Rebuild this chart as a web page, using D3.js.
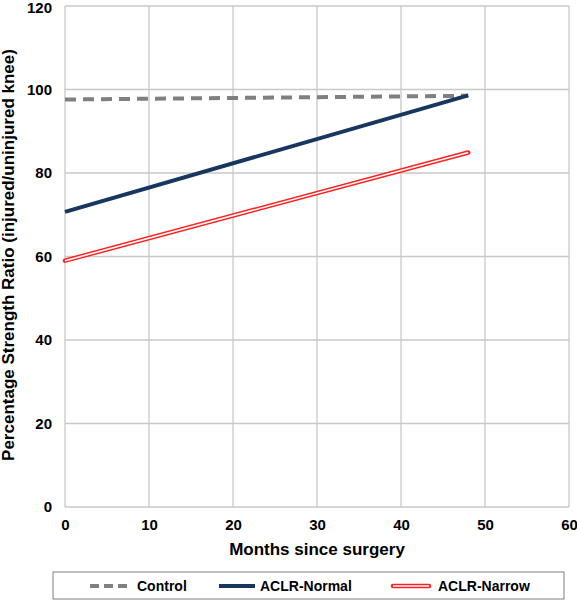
<!DOCTYPE html>
<html><head><meta charset="utf-8">
<script src="https://cdn.jsdelivr.net/npm/d3@7"></script>
<style>body{margin:0;background:#fff;} text{font-family:"Liberation Sans",Arial,sans-serif;font-weight:bold;fill:#000;}</style>
</head><body>
<svg id="c" width="577" height="600"></svg>
<script>
const months = [0, 48];
const control = [97.6, 98.5];
const aclrNormal = [70.7, 98.6];
const aclrNarrow = [59.0, 84.9];
const xTicks = [0, 10, 20, 30, 40, 50, 60];
const yTicks = [0, 20, 40, 60, 80, 100, 120];
const seriesNames = ["Control", "ACLR-Normal", "ACLR-Narrow"];

const svg = d3.select("#c");
const L = 65, R = 569, T = 6, B = 507;
const x = d3.scaleLinear().domain([0, 60]).range([L, R]);
const y = d3.scaleLinear().domain([0, 120]).range([B, T]);

// gridlines
svg.append("g").selectAll("line.v").data(xTicks).join("line")
  .attr("x1", d => x(d)).attr("x2", d => x(d)).attr("y1", T).attr("y2", B)
  .attr("stroke", "#c8c8c8").attr("stroke-width", 1.3);
svg.append("g").selectAll("line.h").data(yTicks).join("line")
  .attr("x1", L).attr("x2", R).attr("y1", d => y(d)).attr("y2", d => y(d))
  .attr("stroke", "#c8c8c8").attr("stroke-width", 1.3);

// axes labels
const xa = svg.append("g").attr("transform", `translate(0,${B})`)
  .call(d3.axisBottom(x).tickValues(xTicks).tickSize(0).tickPadding(12));
xa.select(".domain").remove();
xa.selectAll("text").style("font-size", "15px").style("font-family", "Liberation Sans, Arial").style("font-weight", "bold");
const ya = svg.append("g").attr("transform", `translate(${L},0)`)
  .call(d3.axisLeft(y).tickValues(yTicks).tickSize(0).tickPadding(13));
ya.select(".domain").remove();
ya.selectAll("text").style("font-size", "15px").style("font-family", "Liberation Sans, Arial").style("font-weight", "bold");
ya.selectAll(".tick").filter(d => d === 120).select("text").attr("y", 2);

svg.append("text").attr("x", 317).attr("y", 555).attr("text-anchor", "middle")
  .style("font-size", "17px").text("Months since surgery");
svg.append("text").attr("transform", `translate(13.5,255) rotate(-90)`).attr("text-anchor", "middle")
  .style("font-size", "17px").text("Percentage Strength Ratio (injured/uninjured knee)");

const line = d3.line().x(d => x(d[0])).y(d => y(d[1]));
const pts = arr => months.map((m, i) => [m, arr[i]]);

svg.append("path").attr("d", line(pts(control))).attr("fill", "none")
  .attr("stroke", "#7f7f7f").attr("stroke-width", 4).attr("stroke-dasharray", "11,7");
svg.append("path").attr("d", line(pts(aclrNormal))).attr("fill", "none")
  .attr("stroke", "#17375e").attr("stroke-width", 4);
svg.append("path").attr("d", line(pts(aclrNarrow))).attr("fill", "none")
  .attr("stroke", "#ff2020").attr("stroke-width", 4.5).attr("stroke-linecap", "round");
svg.append("path").attr("d", line(pts(aclrNarrow))).attr("fill", "none")
  .attr("stroke", "#fff").attr("stroke-width", 1.6);

// legend
const lg = svg.append("g");
lg.append("rect").attr("x", 53).attr("y", 572).attr("width", 511).attr("height", 27)
  .attr("fill", "#fff").attr("stroke", "#7f7f7f").attr("stroke-width", 1);
const ly = 586;
const items = [
  {x1: 90, x2: 131, tx: 137},
  {x1: 219, x2: 255, tx: 260},
  {x1: 393, x2: 429, tx: 438}
];
lg.append("line").attr("x1", items[0].x1).attr("x2", items[0].x2).attr("y1", ly).attr("y2", ly)
  .attr("stroke", "#7f7f7f").attr("stroke-width", 4).attr("stroke-dasharray", "9,5");
lg.append("line").attr("x1", items[1].x1).attr("x2", items[1].x2).attr("y1", ly).attr("y2", ly)
  .attr("stroke", "#17375e").attr("stroke-width", 4);
lg.append("line").attr("x1", items[2].x1).attr("x2", items[2].x2).attr("y1", ly).attr("y2", ly)
  .attr("stroke", "#ff2020").attr("stroke-width", 4.5).attr("stroke-linecap", "round");
lg.append("line").attr("x1", items[2].x1).attr("x2", items[2].x2).attr("y1", ly).attr("y2", ly)
  .attr("stroke", "#fff").attr("stroke-width", 1.6);
items.forEach((it, i) => {
  lg.append("text").attr("x", it.tx).attr("y", ly + 5).style("font-size", "14px").text(seriesNames[i]);
});
</script>
</body></html>
